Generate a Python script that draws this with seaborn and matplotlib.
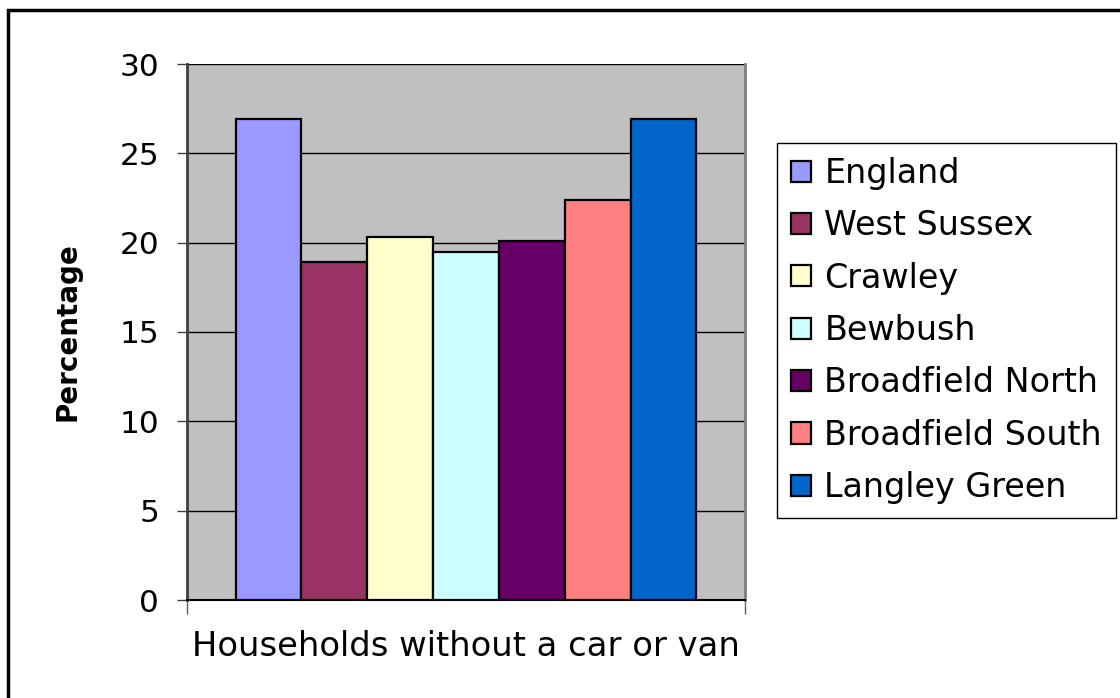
import matplotlib
matplotlib.use("Agg")
import matplotlib.pyplot as plt
import seaborn as sns
import pandas as pd
from matplotlib.patches import Rectangle, Patch

# data
areas = ["England", "West Sussex", "Crawley", "Bewbush",
         "Broadfield North", "Broadfield South", "Langley Green"]
values = [26.9, 18.9, 20.3, 19.5, 20.1, 22.4, 26.9]
colors = ["#9999FF", "#993366", "#FFFFCC", "#CCFFFF",
          "#660066", "#FF8080", "#0066CC"]
category = "Households without a car or van"
y_ticks = [0, 5, 10, 15, 20, 25, 30]

sns.set_theme(style="white")
plt.rcParams['font.family'] = ['DejaVu Sans']
plt.rcParams['text.color'] = 'black'
plt.rcParams['axes.labelcolor'] = 'black'
plt.rcParams['ytick.labelcolor'] = 'black'

df = pd.DataFrame({"cat": [category] * len(areas), "area": areas, "value": values})

fig = plt.figure(figsize=(11.2, 6.98), dpi=100)
ax = fig.add_axes([187 / 1120, 1 - 600 / 698, (745 - 187) / 1120, (600 - 64) / 698])
ax.set_facecolor("#C0C0C0")

sns.barplot(data=df, x="cat", y="value", hue="area", hue_order=areas,
            palette=colors, width=0.826, edgecolor="black", linewidth=1.6,
            saturation=1, ax=ax, legend=False, zorder=3)

ax.set_xlim(-0.5, 0.5)
ax.set_ylim(0, 30)
ax.set_yticks(y_ticks)
ax.set_yticklabels([str(t) for t in y_ticks], fontsize=22.5)
ax.yaxis.grid(True, color="black", linewidth=1.0, zorder=0)
ax.set_axisbelow(True)
ax.set_xticks([-0.5, 0.5])
ax.set_xticklabels(["", ""])
ax.tick_params(axis="y", direction="out", length=7, width=1, color="#404040", pad=13, left=True)
ax.tick_params(axis="x", direction="out", length=10, width=1, color="#606060", bottom=True)

ax.spines["top"].set_visible(False)
ax.spines["left"].set_color("#404040")
ax.spines["left"].set_linewidth(2)
ax.spines["right"].set_color("#808080")
ax.spines["right"].set_linewidth(2)
ax.spines["bottom"].set_color("black")
ax.spines["bottom"].set_linewidth(1.5)

ax.set_xlabel(category, fontsize=24.3, labelpad=8)
ax.set_ylabel("Percentage", fontsize=20, fontweight="bold", labelpad=27)

handles = [Patch(facecolor=c, edgecolor="black", linewidth=1.6) for c in colors]
leg = fig.legend(handles, areas, loc="upper left",
                 bbox_to_anchor=(777 / 1120, 1 - 143 / 698),
                 fontsize=24, frameon=True, fancybox=False, framealpha=1,
                 edgecolor="black", handlelength=0.6, handleheight=0.6,
                 handletextpad=0.4, borderpad=0.42, labelspacing=0.58,
                 borderaxespad=0)
leg.get_frame().set_linewidth(1.0)

# outer chart border
fig.patches.append(Rectangle((8 / 1120, -0.05), 1.2, 1 - 10 / 698 + 0.05,
                             transform=fig.transFigure, fill=False,
                             edgecolor="black", linewidth=2.5))

fig.savefig("out.png", dpi=100)
